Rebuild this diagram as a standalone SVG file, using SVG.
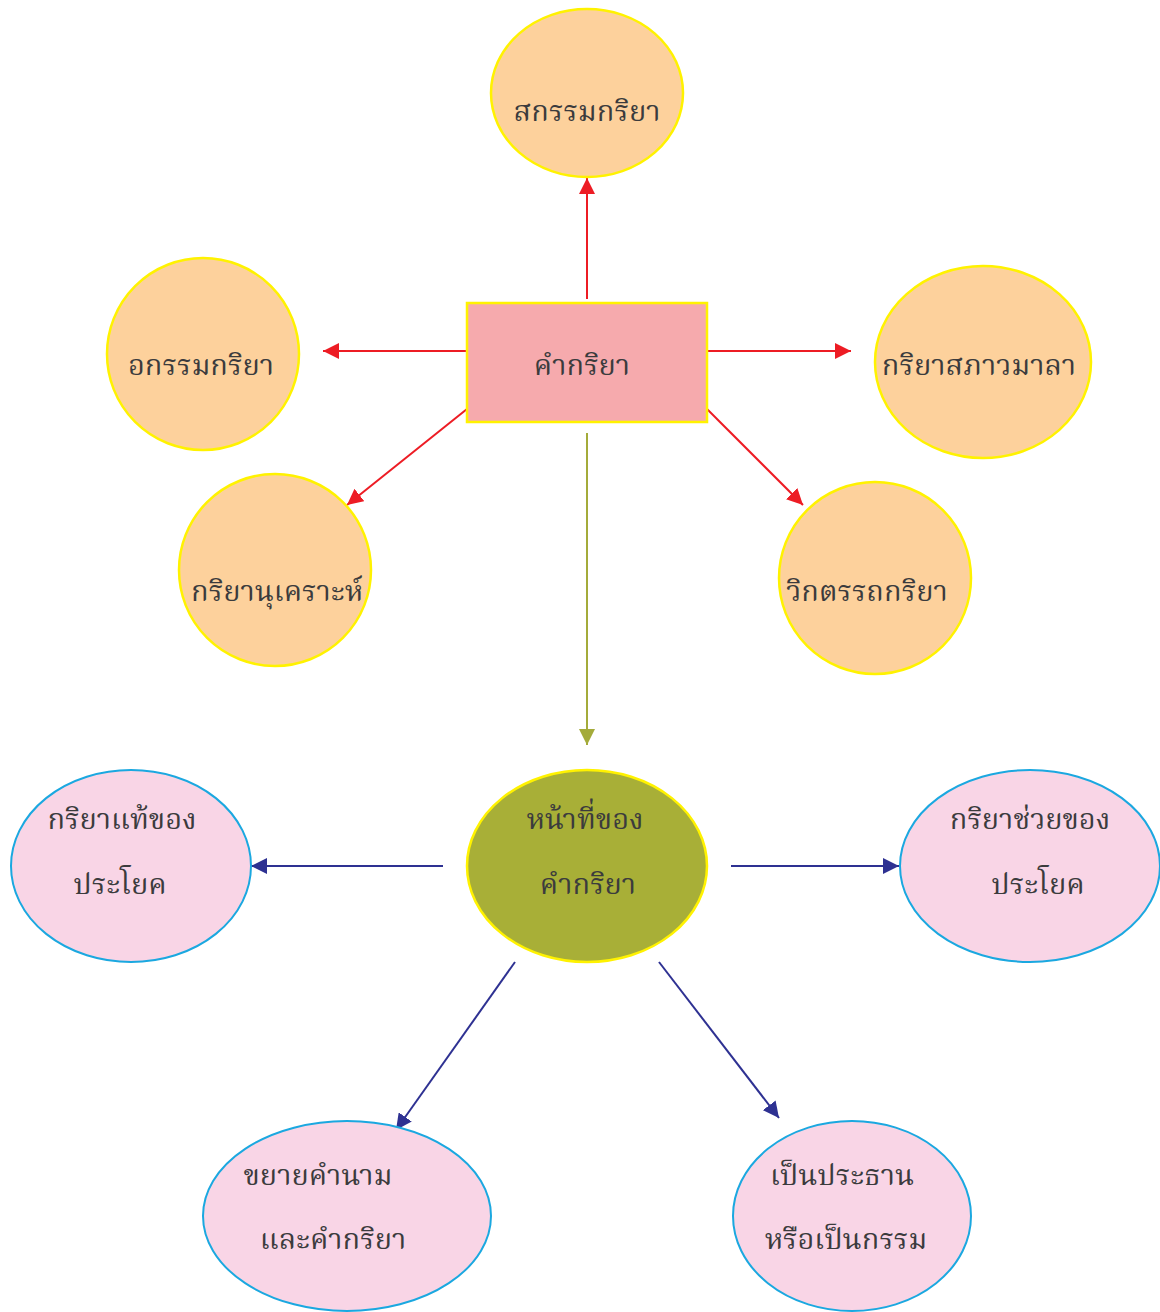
<svg xmlns="http://www.w3.org/2000/svg" width="1160" height="1312" viewBox="0 0 1160 1312">
<defs>
<style>
.t{font-family:"Noto Serif Thai","Noto Sans Thai","Loma","Garuda","Tlwg Typo","Liberation Serif","Noto Sans",serif;font-size:29px;fill:#3b3b3d;text-anchor:middle}
.o{fill:#FDD19C;stroke:#FFF200;stroke-width:2.5}
.p{fill:#F9D5E6;stroke:#1BA8E0;stroke-width:2}
.r{stroke:#ED1C24;stroke-width:2;fill:none}
.g{stroke:#A4AB3A;stroke-width:2;fill:none}
.b{stroke:#2E3192;stroke-width:2;fill:none}
</style>
<marker id="mr" viewBox="0 0 10 10" refX="10" refY="5" markerWidth="16" markerHeight="16" markerUnits="userSpaceOnUse" orient="auto"><path d="M0,0L10,5L0,10z" fill="#ED1C24"/></marker>
<marker id="mg" viewBox="0 0 10 10" refX="10" refY="5" markerWidth="16" markerHeight="16" markerUnits="userSpaceOnUse" orient="auto"><path d="M0,0L10,5L0,10z" fill="#A4AB3A"/></marker>
<marker id="mb" viewBox="0 0 10 10" refX="10" refY="5" markerWidth="16" markerHeight="16" markerUnits="userSpaceOnUse" orient="auto"><path d="M0,0L10,5L0,10z" fill="#2E3192"/></marker>
</defs>
<rect width="1160" height="1312" fill="#fff"/>
<g id="connectors">
<line class="r" x1="587" y1="299" x2="587" y2="178" marker-end="url(#mr)"/>
<line class="r" x1="467" y1="351" x2="323" y2="351" marker-end="url(#mr)"/>
<line class="r" x1="707" y1="351" x2="851" y2="351" marker-end="url(#mr)"/>
<line class="r" x1="467" y1="409" x2="347" y2="505" marker-end="url(#mr)"/>
<line class="r" x1="707" y1="409" x2="803" y2="505" marker-end="url(#mr)"/>
<line class="g" x1="587" y1="433" x2="587" y2="745" marker-end="url(#mg)"/>
<line class="b" x1="443" y1="866" x2="251" y2="866" marker-end="url(#mb)"/>
<line class="b" x1="731" y1="866" x2="899" y2="866" marker-end="url(#mb)"/>
<line class="b" x1="515" y1="962" x2="396" y2="1130" marker-end="url(#mb)"/>
<line class="b" x1="659" y1="962" x2="779" y2="1118" marker-end="url(#mb)"/>
</g>
<g id="n-top"><ellipse class="o" cx="587" cy="93" rx="96" ry="84"/><text class="t" x="587" y="121">สกรรมกริยา</text></g>
<g id="n-center"><rect x="467" y="303" width="240" height="119" fill="#F6AAAD" stroke="#FFF200" stroke-width="2.5"/><text class="t" x="582" y="375">คำกริยา</text></g>
<g id="n-left"><ellipse class="o" cx="203" cy="354" rx="96" ry="96"/><text class="t" x="201" y="375">อกรรมกริยา</text></g>
<g id="n-right"><ellipse class="o" cx="983" cy="362" rx="108" ry="96"/><text class="t" x="979" y="375">กริยาสภาวมาลา</text></g>
<g id="n-ll"><ellipse class="o" cx="275" cy="570" rx="96" ry="96"/><text class="t" x="277" y="601">กริยานุเคราะห์</text></g>
<g id="n-lr"><ellipse class="o" cx="875" cy="578" rx="96" ry="96"/><text class="t" x="867" y="601">วิกตรรถกริยา</text></g>
<g id="n-func"><ellipse cx="587" cy="866" rx="120" ry="96" fill="#A8AF37" stroke="#FFF200" stroke-width="2.5"/><text class="t" x="585" y="829">หน้าที่ของ</text><text class="t" x="588" y="894">คำกริยา</text></g>
<g id="n-f1"><ellipse class="p" cx="131" cy="866" rx="120" ry="96"/><text class="t" x="122" y="829">กริยาแท้ของ</text><text class="t" x="120" y="894">ประโยค</text></g>
<g id="n-f2"><ellipse class="p" cx="1030" cy="866" rx="130" ry="96"/><text class="t" x="1030" y="829">กริยาช่วยของ</text><text class="t" x="1038" y="894">ประโยค</text></g>
<g id="n-f3"><ellipse class="p" cx="347" cy="1216" rx="144" ry="95"/><text class="t" x="318" y="1185">ขยายคำนาม</text><text class="t" x="333" y="1249">และคำกริยา</text></g>
<g id="n-f4"><ellipse class="p" cx="852" cy="1216" rx="119" ry="95"/><text class="t" x="842" y="1185">เป็นประธาน</text><text class="t" x="846" y="1249">หรือเป็นกรรม</text></g>
</svg>
